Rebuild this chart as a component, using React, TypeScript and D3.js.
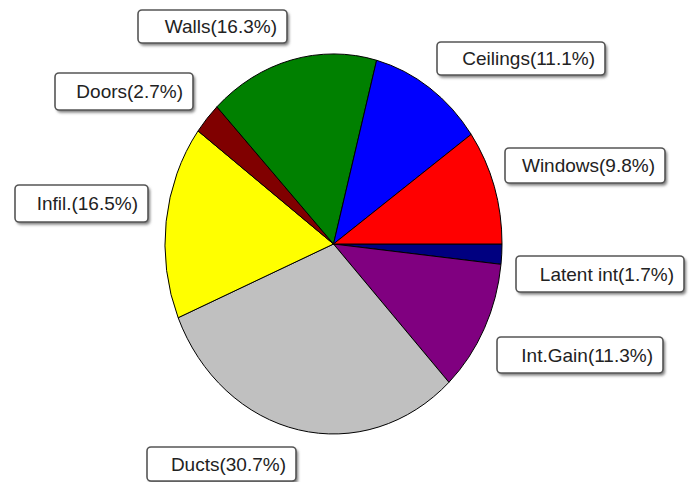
import React from 'react';
import * as d3 from 'd3';

// slices, clockwise from 3 o'clock
const categories = ['Latent int', 'Int.Gain', 'Ducts', 'Infil.', 'Doors', 'Walls', 'Ceilings', 'Windows'];
const shares = [1.7, 11.3, 30.7, 16.5, 2.7, 16.3, 11.1, 9.8];
const sliceColors = ['#000080', '#800080', '#c0c0c0', '#ffff00', '#800000', '#008000', '#0000ff', '#ff0000'];

// label box layout: [left, top, width, height]
const labelBoxes: [number, number, number, number][] = [
  [516, 256, 168, 36],
  [497, 337, 166, 36],
  [147, 447, 149, 34],
  [15, 185, 133, 37],
  [55, 73, 138, 37],
  [138, 10, 149, 33],
  [437, 42, 168, 33],
  [505, 148, 160, 35],
];

const W = 695;
const H = 482;
const cx = 333.5;
const cy = 244;
const rx = 168.5;
const ry = 190;

const App: React.FC = () => {
  const pie = d3
    .pie<number>()
    .sort(null)
    .value((d) => d)
    .startAngle(Math.PI / 2)
    .endAngle(Math.PI / 2 + 2 * Math.PI);
  const arcs = pie(shares);
  const arc = d3.arc<d3.PieArcDatum<number>>().innerRadius(0).outerRadius(1);

  return (
    <svg width={W} height={H} style={{ position: 'absolute', left: 0, top: 0, background: '#fff' }}>
      <defs>
        <filter id="sh" x="-10%" y="-30%" width="130%" height="180%">
          <feGaussianBlur stdDeviation="1.5" />
        </filter>
      </defs>
      <g transform={`translate(${cx},${cy}) scale(${rx},${ry})`}>
        {arcs.map((a, i) => (
          <path
            key={categories[i]}
            d={arc(a) || ''}
            fill={sliceColors[i]}
            stroke="#000"
            strokeWidth={1}
            vectorEffect="non-scaling-stroke"
          />
        ))}
      </g>
      {categories.map((c, i) => {
        const [x, y, w, h] = labelBoxes[i];
        return (
          <g key={c}>
            <rect x={x + 2} y={y + 2.5} width={w} height={h} rx={4} fill="#777" filter="url(#sh)" />
            <rect x={x} y={y} width={w} height={h} rx={4} fill="#fff" stroke="#555" strokeWidth={1.6} />
            <text
              x={x + w - 10}
              y={y + h / 2}
              dy="0.36em"
              textAnchor="end"
              fontFamily="Arial, 'Liberation Sans', sans-serif"
              fontSize={19}
              fill="#222"
            >
              {`${c}(${shares[i].toFixed(1)}%)`}
            </text>
          </g>
        );
      })}
    </svg>
  );
};

export default App;
